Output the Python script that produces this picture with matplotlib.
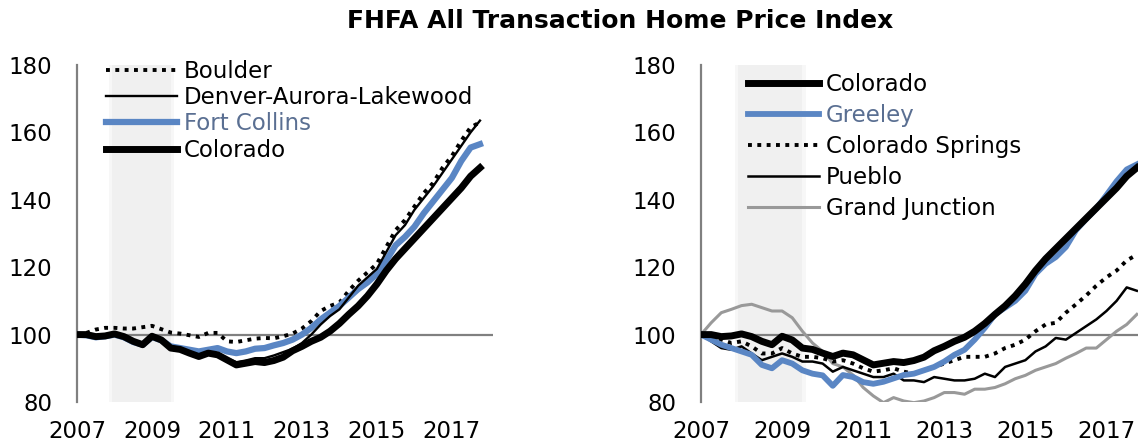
import numpy as np
import matplotlib.pyplot as plt

# quarterly index, 2007Q1 = 100
quarters = 2007 + np.arange(44) / 4

colorado = [100, 100, 99.4, 99.6, 100.2, 99.4, 98, 97, 99.5, 98.4, 96, 95.6,
            94.5, 93.5, 94.5, 94, 92.5, 91, 91.5, 92, 91.7, 92.3, 93.3, 95.2,
            96.5, 98, 99.2, 101, 103.3, 106, 108.5, 111.5, 115, 119, 122.5, 125.5,
            128.5, 131.5, 134.5, 137.5, 140.5, 143.5, 147, 149.5]
boulder = [100, 100.5, 101.5, 102, 102, 101.8, 101.8, 102.2, 102.6, 101.6, 100.6, 100.3,
           99.8, 99.3, 100.5, 100.5, 98, 97.8, 98.3, 98.8, 99, 98.9, 99.5, 100.3,
           101.8, 104, 107, 108.5, 109.5, 113, 116, 118.5, 121, 126, 131, 134,
           138, 142, 145, 149.5, 153, 157.5, 161.5, 163]
denver = [100, 100.2, 99.6, 99.8, 100.4, 99.6, 98.2, 97.3, 99.7, 98.6, 96.3, 95.8,
          94.8, 93.8, 94.8, 94.3, 93, 91.8, 92.3, 93, 93, 93.8, 94.8, 95.8,
          97.5, 100, 103, 105.5, 107.5, 111, 114.5, 117, 119.5, 124.5, 129.5, 132.5,
          137, 140.5, 144, 148, 152, 156, 160, 163.5]
fort_collins = [100, 99.8, 99.2, 99.5, 100, 99.2, 97.8, 97, 99.3, 98.3, 96.5, 96,
                95.5, 95, 95.5, 96, 95, 94.5, 95, 95.8, 96, 96.8, 97.5, 98.5,
                100, 102, 104.5, 106.5, 108.5, 111, 113.5, 115.5, 118, 122, 126.5, 129,
                132, 136, 139.5, 143, 146.5, 151.5, 155.5, 156.5]
greeley = [100, 98.5, 97, 96, 95, 94, 91, 90, 92.4, 91.4, 89.4, 88.4,
           87.9, 84.8, 88, 87.4, 85.9, 85.4, 86, 87, 88, 88.4, 89.4, 90.4,
           92, 94, 95.5, 98.5, 102, 106, 108, 110, 113, 118, 121, 123,
           126, 131, 134.3, 137.4, 141.4, 145.5, 149, 150.5]
colorado_springs = [100, 99, 98.5, 97.5, 98, 96.5, 94.4, 94.4, 96, 94.4, 93.4, 93.4,
                    93, 92, 92.4, 91.4, 90, 89, 89.4, 90, 89, 88.4, 89.4, 90.4,
                    91.4, 92.4, 93.4, 93.4, 93.4, 94.4, 96, 97, 98.5, 101, 103, 103.5,
                    106.5, 109, 111.6, 114.5, 117, 119, 122, 123.7]
pueblo = [100, 98, 96, 95.5, 96.5, 94.4, 92.4, 93.4, 94.4, 93.4, 92, 92,
          91.4, 89, 90.4, 89.4, 88.4, 87.4, 87.4, 88.4, 86.4, 86.4, 85.9, 87.4,
          86.9, 86.4, 86.4, 86.9, 88.4, 87.4, 90.4, 91.4, 92.4, 95, 96.5, 99,
          98.5, 100.5, 102.5, 104.5, 107, 110, 114, 113]
grand_junction = [100, 103.5, 106.5, 107.5, 108.6, 109, 108, 107, 107, 105, 101, 97.5,
                  95, 91.4, 90.4, 88, 84.3, 81.8, 79.8, 81.3, 80.3, 79.8, 80.3, 81.3,
                  82.8, 82.8, 82.3, 83.8, 83.8, 84.3, 85.4, 86.9, 87.9, 89.4, 90.4, 91.4,
                  93, 94.4, 96, 96, 98.5, 101, 103, 106]

recession = (2007.92, 2009.5)
x_ticks = [2007, 2009, 2011, 2013, 2015, 2017]
y_ticks = [80, 100, 120, 140, 160, 180]

blue = '#5a86c4'
blue_text = '#5a6f92'
dots = (0, (1, 1.4))

plt.rcParams['font.family'] = 'DejaVu Sans'
fig = plt.figure(figsize=(11.38, 4.47), dpi=100)
ax1 = fig.add_axes([0.0677, 0.1007, 0.3656, 0.7539])
ax2 = fig.add_axes([0.6160, 0.1007, 0.3919, 0.7539])
ax1.set_xlim(2007, 2018.1)
ax2.set_xlim(2007, 2018.0)

for ax in (ax1, ax2):
    # soft-edged recession band
    ax.axvspan(*recession, color='#f0f0f0', lw=0, zorder=0)
    ax.axvspan(recession[0] - 0.08, recession[1] + 0.08, color='#f0f0f0', alpha=0.5, lw=0, zorder=0)
    ax.axhline(100, color='#808080', lw=1.6, zorder=1)
    ax.set_ylim(80, 180)
    ax.set_xticks(x_ticks)
    ax.set_yticks(y_ticks)
    ax.tick_params(length=0, labelsize=16.5)
    ax.tick_params(axis='y', pad=18)
    ax.tick_params(axis='x', pad=13)
    for s in ['top', 'right', 'bottom']:
        ax.spines[s].set_visible(False)
    ax.spines['left'].set_color('#808080')
    ax.spines['left'].set_linewidth(1.6)

# left panel
ax1.plot(quarters, boulder, color='black', lw=2.8, ls=dots, label='Boulder', zorder=3)
ax1.plot(quarters, fort_collins, color=blue, lw=4.5, label='Fort Collins', zorder=3)
ax1.plot(quarters, denver, color='black', lw=1.7, label='Denver-Aurora-Lakewood', zorder=4)
ax1.plot(quarters, colorado, color='black', lw=5, label='Colorado', zorder=3.5)
h, l = ax1.get_legend_handles_labels()
order = [0, 2, 1, 3]
leg1 = ax1.legend([h[i] for i in order], [l[i] for i in order], loc='upper left',
                  bbox_to_anchor=(0.07, 1.015), frameon=False, fontsize=16.5,
                  handlelength=3.1, handletextpad=0.3, labelspacing=0.14,
                  borderpad=0, borderaxespad=0)
leg1.get_texts()[2].set_color(blue_text)

# right panel
ax2.plot(quarters, grand_junction, color='#999999', lw=2.2, label='Grand Junction', zorder=3)
ax2.plot(quarters, pueblo, color='black', lw=1.8, label='Pueblo', zorder=3)
ax2.plot(quarters, colorado_springs, color='black', lw=2.8, ls=dots, label='Colorado Springs', zorder=3)
ax2.plot(quarters, greeley, color=blue, lw=4.2, label='Greeley', zorder=3)
ax2.plot(quarters, colorado, color='black', lw=5, label='Colorado', zorder=3.2)
h, l = ax2.get_legend_handles_labels()
order = [4, 3, 2, 1, 0]
leg2 = ax2.legend([h[i] for i in order], [l[i] for i in order], loc='upper left',
                  bbox_to_anchor=(0.105, 0.975), frameon=False, fontsize=16.5,
                  handlelength=3.1, handletextpad=0.3, labelspacing=0.34,
                  borderpad=0, borderaxespad=0)
leg2.get_texts()[1].set_color(blue_text)

fig.text(0.545, 0.953, 'FHFA All Transaction Home Price Index', ha='center', va='center',
         fontsize=18, fontweight='bold')

fig.savefig('out.png', dpi=100)
